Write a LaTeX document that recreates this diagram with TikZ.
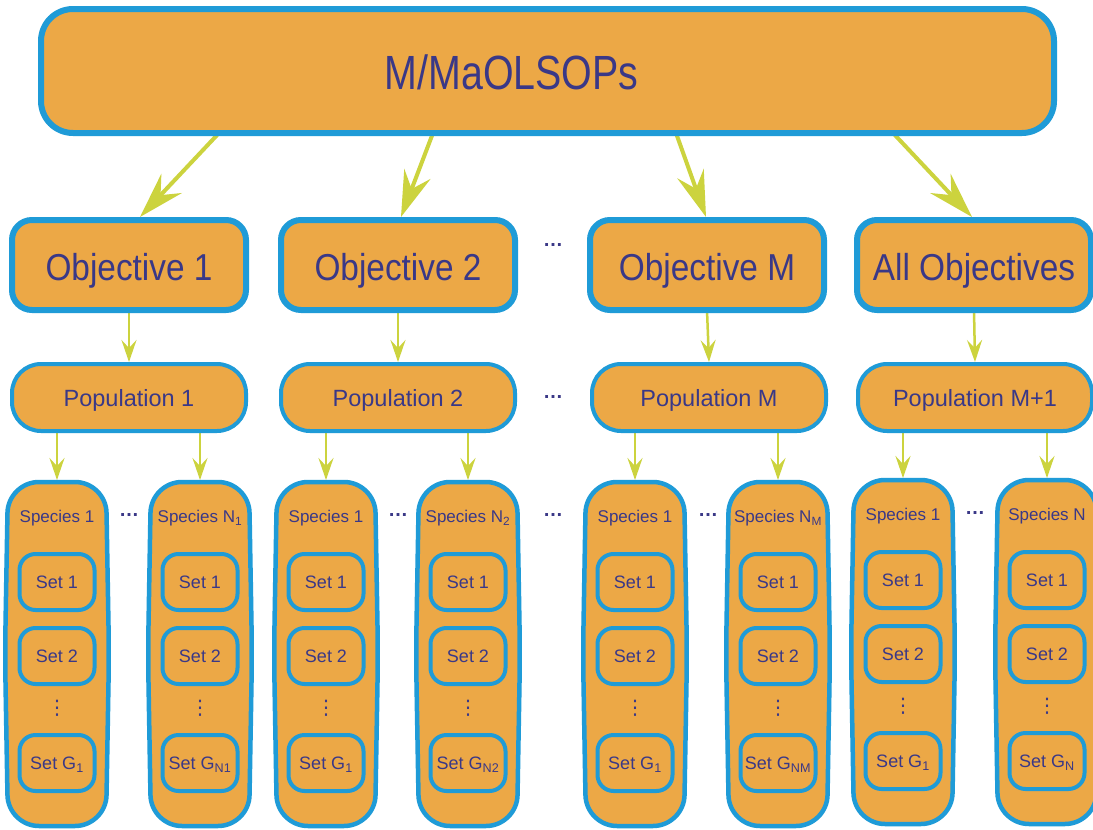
\documentclass[tikz,border=0pt]{standalone}
\usepackage{fontspec}
\setmainfont{Liberation Sans}
\newfontfamily\titlefont[FakeStretch=0.82]{Liberation Sans}
\newfontfamily\objfont[FakeStretch=0.89]{Liberation Sans}
\newfontfamily\symfont{DejaVu Sans}
\usetikzlibrary{arrows.meta,calc}

\definecolor{orfill}{RGB}{236,168,70}
\definecolor{bordblue}{RGB}{31,155,215}
\definecolor{txtblue}{RGB}{58,56,135}
\definecolor{arrgreen}{RGB}{204,211,62}

\pgfdeclarelayer{bg}
\pgfsetlayers{bg,main}

\tikzset{
  base/.style={fill=orfill, draw=bordblue, text=txtblue, outer sep=0pt, inner sep=0pt},
  topbox/.style={base, line width=6pt, rounded corners=32pt,
    minimum width=1013pt, minimum height=124pt, text height=37.4pt, text depth=0pt,
    font=\titlefont\fontsize{48}{56}\selectfont},
  objbox/.style={base, line width=6pt, rounded corners=20pt,
    minimum width=234pt, minimum height=90pt, text height=30pt, text depth=0pt,
    font=\objfont\fontsize{37.5}{44}\selectfont},
  popbox/.style={base, line width=4pt, rounded corners=29pt,
    minimum width=234pt, minimum height=67pt, text height=18.6pt, text depth=0pt,
    font=\fontsize{23.5}{28}\selectfont},
  spbox/.style={outer sep=0pt, inner sep=0pt, minimum width=98pt, minimum height=344pt},
  spshape/.style={fill=orfill, draw=bordblue, line width=4.5pt, rounded corners=31pt},
  splabel/.style={text=txtblue, inner sep=0pt, text height=12.2pt, text depth=0pt,
    font=\fontsize{17}{20}\selectfont},
  setbox/.style={base, line width=4pt, rounded corners=16pt,
    minimum width=75pt, minimum height=56pt, text height=12.9pt, text depth=0pt,
    font=\fontsize{18}{22}\selectfont},
  vdot/.style={text=txtblue, inner sep=0pt, font=\symfont\fontsize{20}{20}\selectfont},
  hdot/.style={text=txtblue, inner sep=0pt, font=\bfseries\fontsize{20}{20}\selectfont},
  bigarr/.style={draw=arrgreen, line width=4pt,
    -{Stealth[length=46pt, width=28pt, inset=16pt, fill=arrgreen]}},
  smallarr/.style={draw=arrgreen, line width=2.5pt,
    -{Stealth[length=22pt, width=15pt, inset=8pt, fill=arrgreen]}},
}

% one species column: name, x, vertical offset, label, subscript of last set
\newcommand\speciescol[5]{%
  \node[spbox] (#1) at (#2, 654+#3) {};
  \draw[spshape] (#1.north east) -- ([xshift=3pt]#1.east)
    -- (#1.south east) -- (#1.south west) -- ([xshift=-3pt]#1.west)
    -- (#1.north west) -- cycle;
  \node[splabel] (#1l) at (#2, 516.5+#3) {#4};
  \node[setbox] (#1s1) at (#2, 582+#3) {Set 1};
  \node[setbox] (#1s2) at (#2, 656+#3) {Set 2};
  \node[vdot] (#1d) at (#2, 708+#3) {⋮};
  \node[setbox] (#1sg) at (#2, 763+#3) {Set G\textsubscript{#5}};
}

\begin{document}
\begin{tikzpicture}[x=1pt, y=-1pt]
\useasboundingbox (0,0) rectangle (1093,830);
\begin{pgfonlayer}{bg}
  \fill[white] (0,0) rectangle (1093,830);
\end{pgfonlayer}

% problem box
\node[topbox] (top) at (547.5,71) {\hspace*{-72pt}M/MaOLSOPs};

% objectives
\node[objbox] (o1) at (129,265) {Objective 1};
\node[objbox] (o2) at (398,265) {Objective 2};
\node[objbox] (oM) at (707,265) {Objective M};
\node[objbox] (oA) at (974,265) {All Objectives};
\node[hdot] (od) at (553,245) {…};

% populations
\node[popbox] (p1) at (129,397.5) {Population 1};
\node[popbox] (p2) at (398,397.5) {Population 2};
\node[popbox] (pM) at (709,397.5) {Population M};
\node[popbox] (pA) at (975,397.5) {Population M+1};
\node[hdot] (pd) at (553,397) {…};

% species
\speciescol{sa1}{57}{0}{Species 1}{1}
\speciescol{sa2}{200}{0}{Species N\textsubscript{1}}{N1}
\speciescol{sb1}{326}{0}{Species 1}{1}
\speciescol{sb2}{468}{0}{Species N\textsubscript{2}}{N2}
\speciescol{sc1}{635}{0}{Species 1}{1}
\speciescol{sc2}{778}{0}{Species N\textsubscript{M}}{NM}
\speciescol{sd1}{903}{-2}{Species 1}{1}
\speciescol{sd2}{1047}{-2}{Species N}{N}

\node[hdot] (da) at (129,515) {…};
\node[hdot] (db) at (398,515) {…};
\node[hdot] (dm) at (553,515) {…};
\node[hdot] (dc) at (708,515) {…};
\node[hdot] (dd) at (975,513) {…};

% connectors
\begin{pgfonlayer}{bg}
  \draw[bigarr] ([xshift=-328.5pt]top.south) -- ([xshift=11pt,yshift=3pt]o1.north);
  \draw[bigarr] ([xshift=-114.5pt]top.south) -- ([xshift=3pt,yshift=3pt]o2.north);
  \draw[bigarr] ([xshift=128.5pt]top.south) -- ([xshift=-1pt,yshift=3pt]oM.north);
  \draw[bigarr] ([xshift=345.5pt]top.south) -- ([xshift=-2pt,yshift=3pt]oA.north);

  \draw[smallarr] (o1.south) -- ([yshift=2pt]p1.north);
  \draw[smallarr] (o2.south) -- ([yshift=2pt]p2.north);
  \draw[smallarr] (oM.south) -- ([yshift=2pt]pM.north);
  \draw[smallarr] (oA.south) -- ([yshift=2pt]pA.north);

  \draw[smallarr] (p1.south -| sa1) -- ([yshift=2pt]sa1.north);
  \draw[smallarr] (p1.south -| sa2) -- ([yshift=2pt]sa2.north);
  \draw[smallarr] (p2.south -| sb1) -- ([yshift=2pt]sb1.north);
  \draw[smallarr] (p2.south -| sb2) -- ([yshift=2pt]sb2.north);
  \draw[smallarr] (pM.south -| sc1) -- ([yshift=2pt]sc1.north);
  \draw[smallarr] (pM.south -| sc2) -- ([yshift=2pt]sc2.north);
  \draw[smallarr] (pA.south -| sd1) -- ([yshift=2pt]sd1.north);
  \draw[smallarr] (pA.south -| sd2) -- ([yshift=2pt]sd2.north);
\end{pgfonlayer}
\end{tikzpicture}
\end{document}
